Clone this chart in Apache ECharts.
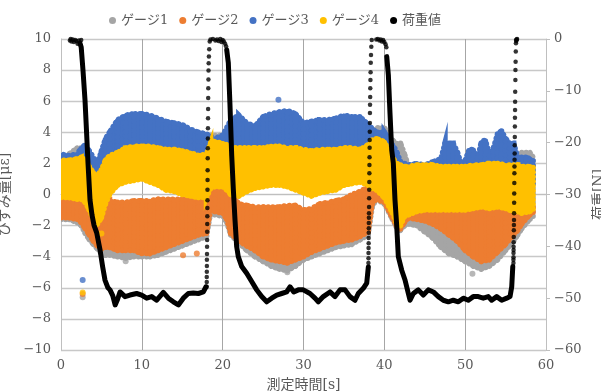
<!DOCTYPE html>
<html>
<head>
<meta charset="utf-8">
<script src="https://cdn.jsdelivr.net/npm/echarts@6.0.0/dist/echarts.min.js"></script>
<style>
  html, body { margin: 0; padding: 0; background: #fff; }
  #chart { width: 601px; height: 392px; }
</style>
</head>
<body>
<div id="chart"></div>
<script>
// ---- strain envelopes, gauges 1,2,4 share time stamps
var bandTime = [0, 1, 2, 2.5, 3, 3.5, 4, 4.5, 5, 5.5,
  6, 7, 8, 9, 10, 11, 12, 13, 14, 15,
  16, 17, 18, 18.5, 19, 20, 20.5, 21, 22, 23,
  24, 25, 26, 27, 28, 29, 30, 31, 32, 33,
  34, 35, 36, 37, 38, 38.5, 39, 40, 41, 41.5,
  42, 42.5, 43, 44, 45, 46, 47, 48, 49, 50,
  51, 52, 53, 54, 55, 56, 56.5, 57, 58, 58.4];

var gauge1High = [2.0, 2.6, 3.0, 3.0, 2.6, 1.6, 1.2, 1.0, 1.4, 2.0,
  -0.5, -0.6, -0.6, -0.5, -0.5, -0.5, -0.4, -0.4, -0.4, -0.4,
  -0.4, -0.4, -0.3, 3.8, 3.8, 3.8, 3.6, 0.0, -0.7, -0.8,
  -0.9, -0.9, -0.9, -0.9, -0.8, -0.8, -1.1, -1.0, -0.7, -0.6,
  -0.5, -0.4, -0.1, 0.1, 0.4, 3.8, 4.3, 4.3, 3.5, 3.3,
  3.3, 2.6, 1.8, 1.7, 1.7, 1.7, 1.6, 1.6, 1.6, 1.6,
  1.7, 1.7, 1.8, 1.8, 1.7, 1.8, 2.4, 2.7, 2.7, 2.4];
var gauge1Low = [-1.6, -1.6, -1.8, -2.0, -2.5, -2.9, -3.2, -3.5, -3.8, -3.9,
  -3.9, -4.0, -4.1, -4.0, -4.0, -4.0, -3.9, -3.7, -3.5, -3.3,
  -3.1, -2.9, -2.7, -1.2, -1.3, -1.4, -1.8, -2.6, -3.1, -3.6,
  -4.0, -4.3, -4.6, -4.8, -4.9, -4.6, -4.2, -4.0, -3.8, -3.6,
  -3.4, -3.3, -3.2, -2.9, -2.6, -0.8, -0.3, -0.6, -1.6, -2.1,
  -2.3, -2.0, -1.9, -2.0, -2.4, -2.8, -3.4, -3.8, -4.0, -4.3,
  -4.6, -4.8, -4.6, -4.2, -3.6, -3.0, -2.6, -2.2, -1.6, -1.4];

var gauge2High = [0.0, 0.0, -0.1, -0.2, -0.3, -0.5, -0.8, -1.0, -0.6, -0.5,
  -0.4, -0.5, -0.5, -0.4, -0.4, -0.4, -0.3, -0.3, -0.3, -0.3,
  -0.3, -0.3, -0.2, 0.6, 0.7, 0.6, 0.4, 0.1, -0.6, -0.7,
  -0.8, -0.8, -0.8, -0.8, -0.7, -0.7, -1.0, -0.9, -0.6, -0.5,
  -0.4, -0.3, 0.0, 0.2, 0.5, 1.0, 1.1, 0.8, 0.0, -0.6,
  -0.9, -1.0, -1.0, -1.0, -1.0, -1.0, -1.0, -1.0, -1.0, -1.0,
  -1.0, -1.0, -1.0, -1.0, -1.0, -0.9, -0.8, -0.7, -0.6, -0.6];
var gauge2Low = [-1.5, -1.5, -1.6, -1.8, -2.2, -2.6, -3.0, -3.3, -3.5, -3.4,
  -3.4, -3.6, -3.6, -3.6, -3.8, -3.8, -3.6, -3.4, -3.2, -3.0,
  -2.8, -2.6, -2.5, -1.0, -1.1, -1.2, -1.6, -2.5, -3.0, -3.3,
  -3.6, -4.0, -4.2, -4.3, -4.4, -4.2, -4.0, -3.7, -3.5, -3.3,
  -3.1, -3.0, -2.9, -2.7, -2.4, -0.6, -0.3, -0.5, -1.5, -2.0,
  -2.2, -1.8, -1.5, -1.6, -1.7, -1.9, -2.2, -2.6, -3.0, -3.6,
  -4.0, -4.3, -4.2, -3.7, -3.2, -2.6, -2.3, -1.9, -1.3, -1.2];

var gauge4High = [2.2, 2.2, 2.3, 2.4, 2.2, 1.8, 1.4, 1.2, 1.6, 2.2,
  2.5, 2.7, 3.0, 3.1, 3.1, 3.1, 3.0, 2.9, 2.9, 2.8,
  2.7, 2.5, 2.6, 3.3, 3.4, 3.3, 3.2, 3.0, 3.0, 3.0,
  3.0, 3.0, 3.1, 3.1, 3.0, 3.0, 2.9, 2.8, 2.9, 2.9,
  2.9, 3.0, 3.0, 2.9, 3.2, 3.5, 3.6, 3.4, 2.4, 2.0,
  1.9, 1.8, 1.8, 1.9, 1.9, 1.9, 1.8, 1.8, 1.8, 1.8,
  1.9, 1.9, 2.0, 2.0, 1.9, 1.9, 1.9, 1.8, 1.8, 1.8];
var gauge4Low = [-0.2, -0.2, -0.3, -0.3, -0.5, -1.0, -1.6, -1.9, -1.5, -0.6,
  0.0, 0.6, 0.8, 0.9, 1.0, 0.8, 0.6, 0.3, 0.2, 0.0,
  -0.1, -0.2, -0.2, 0.4, 0.5, 0.5, 0.3, 0.0, -0.1, 0.2,
  0.4, 0.5, 0.6, 0.6, 0.5, 0.3, 0.1, -0.1, 0.1, 0.2,
  0.3, 0.6, 0.7, 0.8, 0.6, 0.4, 0.3, -0.2, -1.2, -1.8,
  -2.0, -1.4, -1.3, -1.1, -1.0, -1.0, -1.0, -1.0, -1.0, -1.0,
  -0.9, -0.8, -0.9, -0.8, -0.9, -1.1, -1.1, -1.2, -1.1, -1.0];

// gauge 3 needs finer stamps for the spikes near the end
var gauge3Time = [0, 1, 2, 2.5, 3, 3.5, 4, 4.5, 5, 5.5,
  6, 7, 8, 9, 10, 11, 12, 13, 14, 15,
  16, 17, 18, 19, 20, 21, 22, 23, 24, 25,
  26, 27, 28, 29, 30, 31, 32, 33, 34, 35,
  36, 37, 38, 39, 40, 40.5, 41, 41.5, 42, 43,
  44, 45, 46, 47, 47.5, 48, 48.5, 49, 49.5, 50,
  50.5, 51, 51.5, 52, 52.5, 53, 53.5, 54, 54.5, 55,
  55.5, 56, 56.5, 57, 57.5, 58, 58.4];
var gauge3High = [2.6, 2.5, 2.6, 3.0, 3.2, 2.8, 2.4, 2.0, 2.8, 3.6,
  4.0, 4.8, 5.1, 5.2, 5.2, 5.1, 4.9, 4.7, 4.6, 4.5,
  4.2, 4.0, 3.9, 3.6, 3.8, 4.8, 5.1, 4.6, 4.4, 5.0,
  5.2, 5.3, 5.4, 5.2, 4.6, 4.7, 4.8, 4.8, 4.9, 5.1,
  5.0, 5.0, 4.5, 4.0, 4.0, 3.6, 3.2, 2.8, 2.1, 1.9,
  2.0, 1.9, 2.1, 2.3, 3.3, 3.3, 3.3, 2.8, 2.0, 2.2,
  2.9, 2.9, 2.2, 3.4, 3.5, 2.6, 3.0, 3.9, 4.1, 3.6,
  3.3, 3.3, 2.4, 2.4, 2.4, 2.3, 2.2];
var gauge3Low = [1.0, 1.0, 1.0, 1.2, 1.2, 0.9, 0.8, 0.8, 1.0, 1.2,
  1.4, 1.4, 1.4, 1.4, 1.4, 1.4, 1.4, 1.4, 1.4, 1.4,
  1.4, 1.4, 1.4, 1.4, 1.4, 1.4, 1.4, 1.4, 1.4, 1.4,
  1.4, 1.4, 1.4, 1.4, 1.4, 1.4, 1.4, 1.4, 1.4, 1.4,
  1.4, 1.4, 1.4, 1.4, 1.4, 1.0, 0.6, 0.6, 0.6, 0.6,
  0.6, 0.6, 0.6, 0.6, 0.6, 0.6, 0.6, 0.6, 0.6, 0.6,
  0.6, 0.6, 0.6, 0.6, 0.6, 0.6, 0.6, 0.6, 0.6, 0.6,
  0.6, 0.6, 0.6, 0.6, 0.6, 0.6, 0.6];

// stray strain points [time, strain]
var gauge1Stray = [[2.68, -6.6], [8.0, -4.3], [28.0, -5.0], [50.9, -5.1]];
var gauge2Stray = [[2.68, -6.4], [15.1, -3.9], [16.8, -3.8]];
var gauge3Stray = [[2.68, -5.5], [26.9, 6.1]];
var gauge4Stray = [[2.68, -6.3], [5.0, -2.5]];

// ---- load (N): dense stretches drawn as a thick trace
var dropTime1 = [2.35, 2.5, 2.72, 2.97, 3.15, 3.34, 3.59, 3.84, 4.08, 4.42,
  4.83, 5.16, 5.44, 5.81, 6.06, 6.4, 6.7, 7.0, 7.3, 7.92,
  8.54, 9.36, 9.98, 10.6, 11.22, 11.84, 12.66, 13.28, 13.9, 14.52,
  15.13, 15.75, 16.37, 16.99, 17.61, 17.94];
var dropLoad1 = [-0.8, -1.6, -6.0, -11.8, -17.6, -23.9, -31.1, -34.0, -35.9, -37.4,
  -40.7, -44.0, -46.5, -48.0, -48.4, -49.5, -51.3, -50.2, -48.8, -49.7,
  -49.4, -49.1, -49.4, -50.0, -49.7, -50.4, -48.9, -50.0, -50.7, -51.3,
  -50.0, -49.1, -49.0, -49.1, -48.8, -47.8];
var dropTime2 = [20.5, 20.7, 20.9, 21.12, 21.32, 21.53, 21.73, 21.93, 22.36, 22.97,
  23.59, 24.21, 24.83, 25.45, 26.07, 26.69, 27.3, 27.92, 28.33, 28.8,
  29.36, 29.98, 30.8, 31.42, 31.83, 32.45, 33.28, 33.9, 34.52, 35.14,
  35.75, 36.37, 36.78, 37.4, 37.82, 38.02];
var dropLoad2 = [-2.1, -4.6, -12.5, -22.5, -29.0, -35.0, -40.0, -42.0, -43.9, -45.2,
  -46.8, -48.4, -49.7, -50.7, -50.0, -49.4, -49.1, -48.8, -47.8, -48.8,
  -48.4, -48.4, -49.1, -50.0, -50.7, -49.7, -48.8, -49.7, -48.4, -48.4,
  -49.7, -50.4, -49.1, -48.1, -47.1, -44.0];
var dropTime3 = [40.3, 40.5, 40.7, 40.91, 41.11, 41.32, 41.53, 41.73, 42.15, 42.56,
  42.97, 43.18, 43.59, 44.2, 44.82, 45.44, 46.06, 46.68, 47.3, 47.92,
  48.53, 49.15, 49.77, 50.39, 51.0, 51.62, 52.24, 52.86, 53.28, 53.9,
  54.52, 55.14, 55.55, 55.76, 55.89];
var dropLoad3 = [-3.4, -7.0, -14.3, -21.4, -23.9, -31.1, -36.0, -42.0, -44.6, -46.5,
  -49.1, -50.4, -49.1, -48.4, -49.4, -48.4, -48.8, -49.7, -50.4, -50.7,
  -50.4, -50.7, -50.0, -50.4, -49.7, -49.7, -50.0, -49.7, -50.4, -49.7,
  -50.4, -50.0, -49.7, -47.8, -43.9];

// ---- load (N): sparse dots on the fast rises and on the zero plateaus
var rise1Time = [18.02, 18.03, 18.03, 18.04, 18.05, 18.05, 18.06, 18.07, 18.08, 18.08,
  18.09, 18.10, 18.11, 18.12, 18.12, 18.13, 18.14, 18.15, 18.16, 18.17,
  18.18, 18.19, 18.20, 18.21, 18.22, 18.24, 18.25, 18.27, 18.30, 18.34, 18.40];
var rise1Load = [-47.8, -46.9, -45.9, -44.9, -43.8, -42.6, -41.5, -40.1, -38.8, -37.2,
  -35.7, -34.2, -32.6, -31.1, -29.1, -27.2, -25.3, -23.0, -21.1, -19.2,
  -17.2, -15.3, -13.5, -11.4, -9.5, -7.8, -6.1, -4.7, -3.4, -2.0, -0.5];
var rise2Time = [38.03, 38.04, 38.04, 38.05, 38.06, 38.06, 38.07, 38.08, 38.08, 38.09,
  38.10, 38.11, 38.12, 38.13, 38.14, 38.15, 38.16, 38.17, 38.18, 38.19,
  38.20, 38.21, 38.22, 38.23, 38.25, 38.26, 38.28, 38.30, 38.32, 38.35, 38.39, 38.44];
var rise2Load = [-43.2, -42.3, -41.3, -40.3, -39.4, -38.4, -37.4, -36.5, -35.5, -34.5,
  -33.6, -32.4, -30.7, -29.1, -27.6, -25.9, -24.3, -22.8, -21.0, -19.5,
  -17.9, -16.2, -14.3, -12.7, -11.2, -9.5, -7.9, -6.4, -4.6, -3.1, -1.5, -0.2];
var rise3Time = [55.97, 55.97, 55.98, 55.98, 55.99, 55.99, 56.00, 56.01, 56.02, 56.03,
  56.04, 56.05, 56.06, 56.07, 56.08, 56.09, 56.10, 56.11, 56.12, 56.13,
  56.14, 56.15, 56.16, 56.17, 56.18, 56.19, 56.21, 56.22, 56.24, 56.26, 56.28, 56.30];
var rise3Load = [-43.2, -42.6, -42.1, -41.3, -40.7, -40.1, -39.2, -38.2, -36.9, -35.9,
  -34.9, -33.6, -31.6, -29.8, -27.8, -25.9, -24.6, -23.3, -22.1, -20.5,
  -18.9, -16.9, -15.2, -13.7, -12.1, -10.2, -7.9, -6.0, -4.4, -2.4, -0.8, -0.2];
var plateauTime = [1.1, 1.2, 1.3, 1.45, 1.6, 1.75, 1.9, 2.05, 2.2, 2.5,
  18.5, 18.8, 19.1, 19.3, 19.5, 19.7, 19.85, 20.0, 20.15, 20.3, 20.42,
  39.0, 39.2, 39.4, 39.55, 39.7, 39.85, 40.0, 40.15, 40.25,
  56.33, 56.37, 56.42];
var plateauLoad = [-0.3, 0.0, -0.5, -0.1, -0.6, -0.2, -0.4, -0.9, -0.3, -0.2,
  -0.1, 0.0, -0.3, -0.1, -0.4, 0.0, -0.6, -0.2, -0.5, -0.9, -1.4,
  -0.1, 0.0, -0.3, -0.1, -0.5, -0.2, -0.6, -1.0, -1.6,
  -0.4, -0.1, 0.0];

var colors = ['#A5A5A5', '#ED7D31', '#4472C4', '#FFC000', '#000000'];
var names = ['ゲージ1', 'ゲージ2', 'ゲージ3', 'ゲージ4', '荷重値'];
var FONT = "'DejaVu Serif', 'Noto Sans CJK JP', serif";
var TXT = '#595959';

function pairs(xs, ys) {
  return xs.map(function (x, i) { return [x, ys[i]]; });
}

// filled band between low and high envelope, one quad per interval;
// a dotted round-capped outline gives the edge the look of a point cloud
function band(name, color, times, lows, highs) {
  return {
    name: name,
    type: 'custom',
    clip: true,
    itemStyle: { color: color },
    encode: { x: 0, y: [1, 2] },
    data: times.map(function (t, i) { return [t, lows[i], highs[i]]; }),
    renderItem: function (params, api) {
      var i = params.dataIndex;
      if (i >= times.length - 1) return null;
      var p = [
        api.coord([times[i], lows[i]]),
        api.coord([times[i + 1], lows[i + 1]]),
        api.coord([times[i + 1], highs[i + 1]]),
        api.coord([times[i], highs[i]])
      ];
      return {
        type: 'group',
        children: [
          {
            type: 'polygon',
            shape: { points: p },
            style: { fill: color, stroke: color, lineWidth: 2, lineJoin: 'round' }
          },
          {
            type: 'polygon',
            shape: { points: p },
            style: { fill: null, stroke: color, lineWidth: 5.5, lineCap: 'round', lineDash: [0.1, 4.5] }
          }
        ]
      };
    }
  };
}

function stray(name, color, pts) {
  return {
    name: name, type: 'scatter', data: pts, symbolSize: 6,
    itemStyle: { color: color }
  };
}

function trace(t, v) {
  return {
    name: '荷重値', type: 'line', yAxisIndex: 1, data: pairs(t, v),
    showSymbol: false, color: '#000',
    lineStyle: { color: '#000', width: 5, cap: 'round', join: 'round' }
  };
}

var series = [
  band(names[0], colors[0], bandTime, gauge1Low, gauge1High),
  stray(names[0], colors[0], gauge1Stray),
  band(names[1], colors[1], bandTime, gauge2Low, gauge2High),
  stray(names[1], colors[1], gauge2Stray),
  band(names[2], colors[2], gauge3Time, gauge3Low, gauge3High),
  stray(names[2], colors[2], gauge3Stray),
  band(names[3], colors[3], bandTime, gauge4Low, gauge4High),
  stray(names[3], colors[3], gauge4Stray),
  trace(dropTime1, dropLoad1),
  trace(dropTime2, dropLoad2),
  trace(dropTime3, dropLoad3),
  {
    name: '荷重値', type: 'scatter', yAxisIndex: 1, symbolSize: 4.5,
    itemStyle: { color: '#000' },
    data: pairs(rise1Time, rise1Load)
      .concat(pairs(rise2Time, rise2Load))
      .concat(pairs(rise3Time, rise3Load))
      .concat(pairs(plateauTime, plateauLoad))
  }
];

function minus(v) { return String(v).replace('-', '\u2212'); }

var chart = echarts.init(document.getElementById('chart'));
chart.setOption({
  animation: false,
  backgroundColor: '#fff',
  legend: {
    top: 9, left: 104, itemGap: 11, itemWidth: 7, itemHeight: 7,
    textStyle: { fontFamily: FONT, fontSize: 13, color: TXT },
    data: names.map(function (n, i) {
      return { name: n, icon: 'circle', itemStyle: { color: colors[i] } };
    })
  },
  grid: { left: 61, right: 55, top: 39, bottom: 42, containLabel: false, outerBoundsMode: 'none' },
  xAxis: {
    type: 'value', min: 0, max: 60, interval: 10,
    name: '測定時間[s]', nameLocation: 'middle', nameGap: 28,
    nameTextStyle: { fontFamily: FONT, fontSize: 14, color: TXT },
    axisLine: { lineStyle: { color: '#bfbfbf' } },
    axisTick: { show: false },
    axisLabel: { fontFamily: FONT, fontSize: 13, color: TXT, margin: 9 },
    splitLine: { lineStyle: { color: '#a6a6a6' } }
  },
  yAxis: [
    {
      type: 'value', min: -10, max: 10, interval: 2,
      name: 'ひずみ量[με]', nameLocation: 'middle', nameGap: 40, nameRotate: 90,
      nameTextStyle: { fontFamily: FONT, fontSize: 14, color: TXT },
      axisLine: { show: true, lineStyle: { color: '#bfbfbf' } },
      axisTick: { show: false },
      axisLabel: { fontFamily: FONT, fontSize: 13, color: TXT, margin: 10, formatter: minus },
      splitLine: { lineStyle: { color: '#c8c8c8', width: 1.3 } }
    },
    {
      type: 'value', min: -60, max: 0, interval: 10, position: 'right',
      name: '荷重[N]', nameLocation: 'middle', nameGap: 44, nameRotate: 90,
      nameTextStyle: { fontFamily: FONT, fontSize: 14, color: TXT },
      axisLine: { show: true, lineStyle: { color: '#bfbfbf' } },
      axisTick: { show: true, length: 4, lineStyle: { color: '#bfbfbf' } },
      axisLabel: { fontFamily: FONT, fontSize: 13, color: TXT, margin: 8, formatter: minus },
      splitLine: { show: false }
    }
  ],
  series: series
});
</script>
</body>
</html>
